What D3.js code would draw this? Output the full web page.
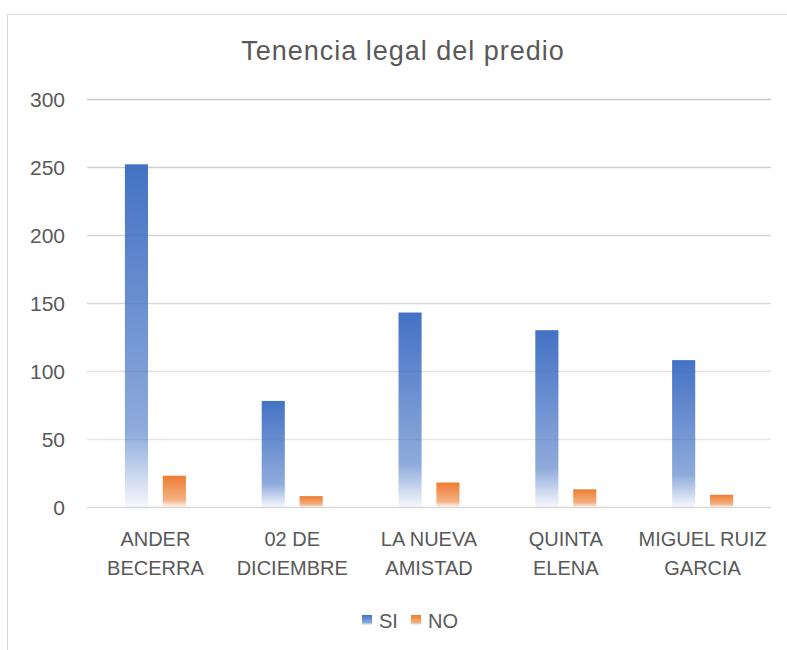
<!DOCTYPE html>
<html>
<head>
<meta charset="utf-8">
<script src="https://cdn.jsdelivr.net/npm/d3@7"></script>
<style>
  body { margin: 0; background: #fff; }
  text { font-family: "Liberation Sans", Arial, sans-serif; fill: #595959; }
</style>
</head>
<body>
<div class="canvas"></div>
<script>
const categories = [['ANDER', 'BECERRA'], ['02 DE', 'DICIEMBRE'], ['LA NUEVA', 'AMISTAD'], ['QUINTA', 'ELENA'], ['MIGUEL RUIZ', 'GARCIA']];
const siValues = [252, 78, 143, 130, 108];
const noValues = [23, 8, 18, 13, 9];
const seriesNames = ['SI', 'NO'];
const yTicks = [0, 50, 100, 150, 200, 250, 300];

const svg = d3.select('.canvas')
    .append('svg')
    .attr('width', 787)
    .attr('height', 650);

// chart frame
svg.append('rect')
    .attr('x', 7.5).attr('y', 14.5)
    .attr('width', 790).attr('height', 640)
    .attr('fill', '#fff')
    .attr('stroke', '#d9d9d9');

const defs = svg.append('defs');
const grads = [['blue', '#4472c4'], ['orange', '#ed7d31']];
grads.forEach(([id, col]) => {
    const g = defs.append('linearGradient')
        .attr('id', 'g-' + id)
        .attr('x1', 0).attr('y1', 0).attr('x2', 0).attr('y2', 1);
    g.append('stop').attr('offset', '0%').attr('stop-color', col).attr('stop-opacity', 1);
    g.append('stop').attr('offset', '78%').attr('stop-color', col).attr('stop-opacity', 0.6);
    g.append('stop').attr('offset', '100%').attr('stop-color', col).attr('stop-opacity', 0.05);
});

const margin = { top: 99, left: 87 };
const graphWidth = 771 - 87;
const graphHeight = 507 - 99;

const graph = svg.append('g')
    .attr('transform', `translate(${margin.left}, ${margin.top})`);

const y = d3.scaleLinear()
    .domain([0, 300])
    .range([graphHeight, 0]);

const x = d3.scaleBand()
    .domain(d3.range(categories.length))
    .range([0, graphWidth]);

const x1 = d3.scaleBand()
    .domain(seriesNames)
    .range([x.bandwidth() / 2 - 30.5, x.bandwidth() / 2 + 30.5])
    .paddingInner(0.39);

// gridlines
const gridGrey = d3.scaleLinear().domain([0, 300]).range(['#ececec', '#c9c9c9']);
graph.selectAll('line.grid')
    .data(yTicks)
    .enter()
    .append('line')
    .attr('class', 'grid')
    .attr('x1', 0).attr('x2', graphWidth)
    .attr('y1', d => y(d) + 0.5).attr('y2', d => y(d) + 0.5)
    .attr('stroke', d => d === 0 ? '#d9d9d9' : gridGrey(d))
    .attr('stroke-width', 1.5);

// y labels
graph.selectAll('text.ylab')
    .data(yTicks)
    .enter()
    .append('text')
    .attr('class', 'ylab')
    .attr('x', -22)
    .attr('y', d => y(d) + 7.5)
    .attr('text-anchor', 'end')
    .attr('font-size', 21)
    .text(d => d);

const data = categories.map((c, i) => ({ i, values: [siValues[i], noValues[i]] }));

const groups = graph.selectAll('g.cat')
    .data(data)
    .enter()
    .append('g')
    .attr('class', 'cat')
    .attr('transform', d => `translate(${x(d.i)}, 0)`);

groups.selectAll('rect')
    .data(d => d.values.map((v, k) => ({ key: seriesNames[k], v, k })))
    .enter()
    .append('rect')
    .attr('x', d => x1(d.key))
    .attr('width', x1.bandwidth())
    .attr('y', d => y(d.v))
    .attr('height', d => graphHeight - y(d.v))
    .attr('fill', d => d.k === 0 ? 'url(#g-blue)' : 'url(#g-orange)');

// category labels
groups.append('text')
    .attr('x', x.bandwidth() / 2)
    .attr('y', graphHeight + 39)
    .attr('text-anchor', 'middle')
    .attr('font-size', 20)
    .selectAll('tspan')
    .data((d, i) => categories[i])
    .enter()
    .append('tspan')
    .attr('x', x.bandwidth() / 2)
    .attr('dy', (d, k) => k === 0 ? 0 : 29)
    .text(d => d);

// title
svg.append('text')
    .attr('x', 403)
    .attr('y', 60)
    .attr('text-anchor', 'middle')
    .attr('font-size', 27)
    .attr('letter-spacing', 1)
    .text('Tenencia legal del predio');

// legend
const legend = svg.append('g').attr('transform', 'translate(362, 620)');
const legendX = [0, 49];
seriesNames.forEach((name, k) => {
    legend.append('rect')
        .attr('x', legendX[k]).attr('y', -5)
        .attr('width', 10).attr('height', 10)
        .attr('fill', k === 0 ? 'url(#g-blue)' : 'url(#g-orange)');
    legend.append('text')
        .attr('x', legendX[k] + 17).attr('y', 7.5)
        .attr('font-size', 20)
        .text(name);
});
</script>
</body>
</html>
